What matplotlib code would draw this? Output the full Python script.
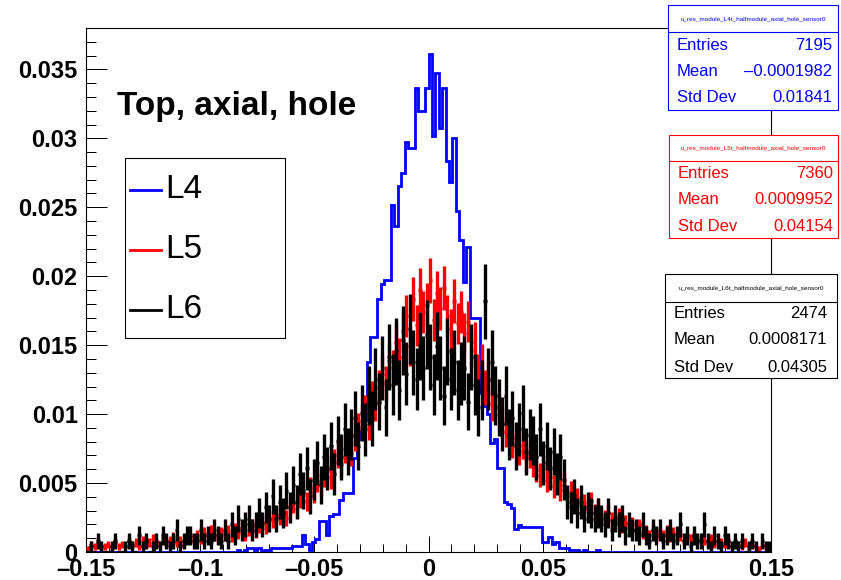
import numpy as np
import matplotlib.pyplot as plt
from matplotlib.patches import Rectangle
from matplotlib.lines import Line2D
from matplotlib.ticker import MultipleLocator, FuncFormatter

plt.rcParams['font.family'] = ['Liberation Sans', 'DejaVu Sans']
plt.rcParams['font.weight'] = 'bold'

# 200 bins from -0.15 to 0.15, counts per bin
x_lo, x_hi, n_bins = -0.15, 0.15, 200

l4_counts = [
    0, 0, 0, 0, 0, 0, 0, 0, 0, 0,
    0, 0, 0, 0, 0, 0, 0, 0, 0, 0,
    0, 0, 0, 0, 0, 0, 0, 0, 0, 0,
    0, 0, 0, 0, 0, 0, 0, 0, 0, 0,
    0, 0, 0, 0, 1, 0, 1, 2, 2, 1,
    2, 0, 1, 1, 2, 2, 2, 2, 2, 2,
    3, 3, 3, 9, 4, 1, 5, 7, 16, 16,
    9, 19, 20, 20, 27, 31, 31, 31, 49, 59,
    63, 69, 99, 112, 112, 132, 140, 142, 142, 181,
    170, 191, 198, 214, 211, 211, 242, 230, 230, 242,
    260, 217, 250, 221, 242, 204, 193, 216, 178, 163,
    141, 159, 122, 122, 122, 83, 76, 72, 57, 59,
    44, 44, 26, 25, 23, 12, 14, 13, 13, 13,
    13, 13, 13, 5, 5, 8, 4, 5, 2, 2,
    2, 1, 1, 1, 0, 1, 0, 0, 0, 1,
    0, 0, 0, 0, 0, 0, 0, 0, 0, 0,
    0, 0, 0, 0, 0, 0, 0, 0, 0, 0,
    0, 0, 0, 0, 0, 0, 0, 0, 0, 0,
    0, 0, 0, 0, 0, 0, 0, 0, 0, 0,
    0, 0, 0, 0, 0, 0, 0, 0, 0, 0,
]

l5_counts = [
    2, 4, 3, 5, 2, 3, 4, 2, 5, 3,
    4, 3, 6, 4, 5, 3, 6, 4, 5, 7,
    5, 4, 7, 5, 6, 8, 5, 6, 4, 7,
    8, 6, 9, 7, 10, 8, 11, 9, 7, 10,
    9, 11, 8, 12, 10, 13, 9, 12, 14, 11,
    14, 16, 13, 18, 17, 20, 19, 22, 18, 24,
    26, 23, 29, 31, 27, 34, 32, 38, 36, 41,
    44, 40, 48, 52, 47, 55, 58, 53, 62, 66,
    70, 75, 68, 82, 79, 88, 95, 90, 102, 98,
    112, 104, 118, 126, 110, 135, 121, 140, 128, 132,
    145, 124, 138, 130, 141, 126, 119, 134, 122, 128,
    117, 123, 108, 112, 96, 101, 88, 92, 79, 84,
    73, 69, 64, 67, 58, 61, 54, 57, 50, 52,
    47, 44, 41, 45, 38, 40, 35, 37, 33, 36,
    30, 32, 27, 29, 25, 26, 23, 27, 21, 24,
    20, 18, 21, 17, 16, 19, 14, 16, 13, 15,
    12, 14, 10, 11, 9, 12, 8, 10, 9, 11,
    8, 10, 7, 9, 6, 8, 7, 9, 6, 7,
    6, 5, 7, 4, 6, 5, 4, 6, 3, 5,
    4, 3, 5, 2, 4, 3, 2, 4, 3, 2,
]

l6_counts = [
    0, 1, 0, 2, 1, 0, 0, 1, 2, 0,
    0, 1, 2, 1, 0, 3, 1, 2, 0, 1,
    2, 1, 3, 2, 1, 2, 4, 1, 2, 3,
    3, 2, 2, 4, 2, 3, 2, 4, 3, 2,
    4, 2, 5, 3, 6, 4, 5, 6, 4, 5,
    7, 5, 8, 6, 10, 6, 9, 7, 11, 8,
    12, 9, 14, 11, 15, 10, 13, 16, 12, 17,
    15, 19, 14, 20, 17, 22, 18, 21, 24, 19,
    25, 22, 28, 24, 31, 27, 33, 26, 35, 30,
    36, 29, 38, 32, 40, 34, 31, 37, 33, 39,
    35, 30, 37, 33, 28, 36, 31, 34, 29, 32,
    33, 27, 35, 30, 26, 29, 45, 31, 34, 28,
    26, 23, 28, 21, 24, 19, 22, 25, 18, 21,
    20, 17, 22, 16, 19, 15, 18, 14, 17, 13,
    9, 8, 10, 7, 9, 6, 8, 7, 6, 7,
    6, 5, 7, 4, 6, 5, 6, 3, 5, 4,
    4, 3, 5, 3, 2, 4, 3, 4, 2, 3,
    4, 2, 3, 5, 2, 3, 1, 3, 2, 2,
    5, 2, 1, 3, 2, 1, 3, 2, 1, 2,
    1, 2, 0, 1, 2, 1, 0, 2, 1, 1,
]

hist_names = ['u_res_module_L4t_halfmodule_axial_hole_sensor0',
              'u_res_module_L5t_halfmodule_axial_hole_sensor0',
              'u_res_module_L6t_halfmodule_axial_hole_sensor0']
entries = [7195, 7360, 2474]
means = ['\u20130.0001982', '0.0009952', '0.0008171']
std_devs = ['0.01841', '0.04154', '0.04305']
labels = ['L4', 'L5', 'L6']
colors = ['#0000ff', '#ff0000', 'black']

W, H = 841, 580
fx = lambda px: px / W
fy = lambda py: 1 - py / H

fig = plt.figure(figsize=(W / 100, H / 100), dpi=100)
ax = fig.add_axes([fx(86), fy(552), (771 - 86) / W, (552 - 28) / H])

edges = np.linspace(x_lo, x_hi, n_bins + 1)
centers = 0.5 * (edges[:-1] + edges[1:])
bw = edges[1] - edges[0]

l4 = np.array(l4_counts) / entries[0]
ax.stairs(l4, edges, color=colors[0], lw=2, zorder=2)

for counts, N, col, z in [(l5_counts, entries[1], colors[1], 3),
                          (l6_counts, entries[2], colors[2], 4)]:
    c = np.array(counts, dtype=float)
    ax.errorbar(centers, c / N, xerr=bw / 2, yerr=np.sqrt(c) / N, fmt='none',
                ecolor=col, elinewidth=2.4, capsize=0, zorder=z)

ax.set_xlim(x_lo, x_hi)
ax.set_ylim(0, 0.038)


def root_fmt(v, pos):
    s = '%g' % round(v, 6)
    if s in ('-0', '0.0'):
        s = '0'
    return s.replace('-', '\u2013')


ax.xaxis.set_major_locator(MultipleLocator(0.05))
ax.xaxis.set_minor_locator(MultipleLocator(0.01))
ax.yaxis.set_major_locator(MultipleLocator(0.005))
ax.yaxis.set_minor_locator(MultipleLocator(0.001))
ax.xaxis.set_major_formatter(FuncFormatter(root_fmt))
ax.yaxis.set_major_formatter(FuncFormatter(root_fmt))
ax.tick_params(which='both', direction='in', top=False, right=False, width=0.72,
               labelsize=17)
ax.tick_params(axis='x', which='major', length=11.3, pad=4)
ax.tick_params(axis='x', which='minor', length=5.7)
ax.tick_params(axis='y', which='major', length=14.8, pad=6)
ax.tick_params(axis='y', which='minor', length=7.4)
for sp in ax.spines.values():
    sp.set_linewidth(0.8)

# title
fig.text(fx(117), fy(106), 'Top, axial, hole', fontsize=24, fontweight='bold',
         va='center', ha='left')

# legend
fig.add_artist(Rectangle((fx(125), fy(338)), fx(285) - fx(125), fy(158) - fy(338),
                         transform=fig.transFigure, facecolor='white',
                         edgecolor='black', lw=0.8, zorder=5))
for lab, col, yc in zip(labels, colors, [190, 250, 310]):
    fig.add_artist(Line2D([fx(130), fx(161)], [fy(yc), fy(yc)], color=col, lw=2,
                          transform=fig.transFigure, zorder=6))
    fig.text(fx(165), fy(yc), lab, fontsize=24, fontweight='normal',
             va='center', ha='left', zorder=6)

# stats boxes
boxes = [(668, 5, 838, 110, 32, 677, 832, [46, 72, 97]),
         (669, 135, 838, 238, 161, 678, 833, [174, 200, 227]),
         (665, 274, 837, 378, 302, 674, 827, [313, 340, 367])]
for k, (x0, y0, x1, y1, ysep, tl, tr, rows) in enumerate(boxes):
    col = colors[k]
    fig.add_artist(Rectangle((fx(x0), fy(y1)), fx(x1) - fx(x0), fy(y0) - fy(y1),
                             transform=fig.transFigure, facecolor='white',
                             edgecolor=col, lw=0.8, zorder=5))
    fig.add_artist(Line2D([fx(x0), fx(x1)], [fy(ysep), fy(ysep)], color=col,
                          lw=0.8, transform=fig.transFigure, zorder=6))
    fig.text(fx((x0 + x1) / 2), fy((y0 + ysep) / 2), hist_names[k], fontsize=4.6,
             fontweight='normal', color=col, ha='center', va='center', zorder=6)
    vals = [str(entries[k]), means[k], std_devs[k]]
    for name, val, yc in zip(['Entries', 'Mean', 'Std Dev'], vals, rows):
        fig.text(fx(tl), fy(yc), name, fontsize=12, fontweight='normal',
                 color=col, ha='left', va='center', zorder=6)
        fig.text(fx(tr), fy(yc), val, fontsize=12, fontweight='normal',
                 color=col, ha='right', va='center', zorder=6)

fig.savefig('out.png', dpi=100)
